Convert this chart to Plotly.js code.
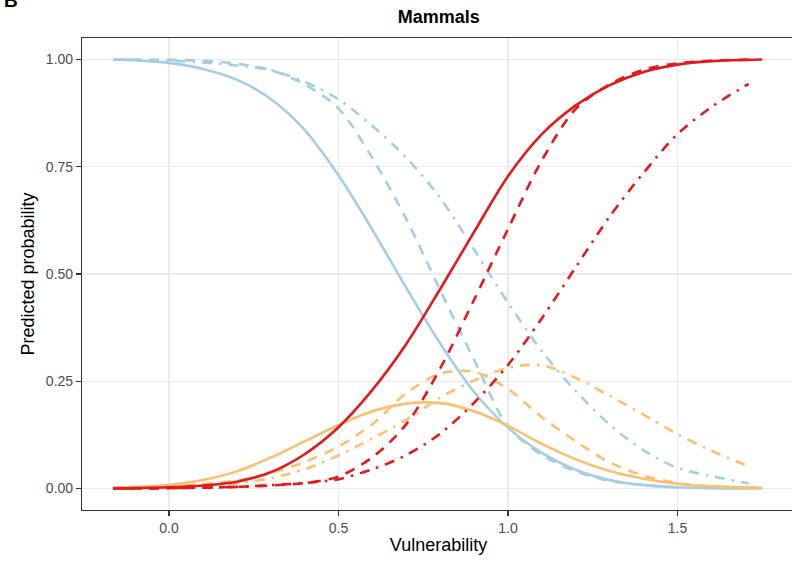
<!DOCTYPE html>
<html>
<head>
<meta charset="utf-8">
<script src="https://cdn.plot.ly/plotly-3.0.1.min.js"></script>
<style>
  html, body { margin: 0; padding: 0; overflow: hidden; background: #fff; }
  #chart { width: 797px; height: 561px; }
</style>
</head>
<body>
<div id="chart"></div>
<script>
// ---- data ----
const xSolid   = [-0.165,-0.1,0,0.1,0.2,0.3,0.4,0.5,0.6,0.7,0.8,0.9,1.0,1.1,1.2,1.3,1.4,1.5,1.6,1.75];
const xDashed  = [-0.165,-0.1,0,0.1,0.2,0.3,0.4,0.5,0.6,0.7,0.8,0.9,1.0,1.1,1.2,1.3,1.4,1.5,1.6,1.73];
const xDotdash = [-0.165,-0.1,0,0.1,0.2,0.3,0.4,0.5,0.6,0.7,0.8,0.9,1.0,1.1,1.2,1.3,1.4,1.5,1.6,1.71];

const lowSolid    = [1.0,0.998,0.992,0.978,0.953,0.908,0.836,0.730,0.603,0.468,0.338,0.225,0.142,0.083,0.044,0.020,0.008,0.003,0.001,0.0];
const midSolid    = [0.002,0.004,0.009,0.020,0.040,0.072,0.110,0.148,0.180,0.198,0.199,0.180,0.146,0.104,0.068,0.041,0.023,0.011,0.005,0.002];
const highSolid   = [0.0,0.001,0.003,0.007,0.016,0.038,0.080,0.143,0.230,0.337,0.465,0.598,0.728,0.826,0.893,0.940,0.971,0.988,0.996,1.0];

const lowDashed   = [1.0,1.0,0.999,0.997,0.990,0.975,0.942,0.886,0.770,0.628,0.462,0.300,0.145,0.078,0.040,0.018,0.008,0.003,0.001,0.0];
const midDashed   = [0.002,0.003,0.005,0.010,0.019,0.036,0.062,0.098,0.150,0.222,0.268,0.272,0.232,0.166,0.110,0.061,0.030,0.013,0.005,0.002];
const highDashed  = [0.0,0.0,0.001,0.002,0.004,0.007,0.013,0.028,0.073,0.150,0.280,0.440,0.605,0.765,0.885,0.942,0.976,0.991,0.997,1.0];

const lowDotdash  = [1.0,0.999,0.997,0.993,0.986,0.975,0.948,0.907,0.845,0.771,0.677,0.557,0.433,0.320,0.227,0.149,0.089,0.048,0.029,0.012];
const midDotdash  = [0.001,0.002,0.003,0.006,0.012,0.024,0.045,0.077,0.117,0.160,0.212,0.252,0.281,0.287,0.258,0.216,0.172,0.127,0.088,0.052];
const highDotdash = [0.0,0.0,0.001,0.002,0.004,0.008,0.013,0.022,0.045,0.078,0.128,0.200,0.288,0.397,0.516,0.634,0.736,0.826,0.889,0.943];

const xTickVals = [0, 0.5, 1.0, 1.5];
const xTickText = ["0.0", "0.5", "1.0", "1.5"];
const yTickVals = [0, 0.25, 0.5, 0.75, 1.0];
const yTickText = ["0.00", "0.25", "0.50", "0.75", "1.00"];

// ---- styles ----
const colLow = "#A6CEE3", colMid = "#FDBF6F", colHigh = "#E31A1C";
const dashStyles = { solid: "solid", dashed: "10px,8px", dotdash: "2.5px,7px,10px,7px" };
const LW = 2.6;

function tr(x, y, color, dash) {
  return { x: x, y: y, type: "scatter", mode: "lines",
           line: { color: color, width: LW, dash: dash, shape: "spline", smoothing: 0.9 },
           hoverinfo: "skip", showlegend: false };
}

const traces = [
  tr(xDotdash, lowDotdash, colLow, dashStyles.dotdash),
  tr(xDashed,  lowDashed,  colLow, dashStyles.dashed),
  tr(xSolid,   lowSolid,   colLow, dashStyles.solid),
  tr(xDotdash, midDotdash, colMid, dashStyles.dotdash),
  tr(xDashed,  midDashed,  colMid, dashStyles.dashed),
  tr(xSolid,   midSolid,   colMid, dashStyles.solid),
  tr(xDotdash, highDotdash, colHigh, dashStyles.dotdash),
  tr(xDashed,  highDashed,  colHigh, dashStyles.dashed),
  tr(xSolid,   highSolid,   colHigh, dashStyles.solid)
];

const tickFont = { family: "Liberation Sans, Arial, sans-serif", size: 14, color: "#4D4D4D" };
const titleFont = { family: "Liberation Sans, Arial, sans-serif", size: 18, color: "#000" };

const layout = {
  width: 797, height: 561,
  margin: { l: 82, r: 2, t: 38, b: 51, pad: 0 },
  paper_bgcolor: "#fff", plot_bgcolor: "#fff",
  title: { text: "<b>Mammals</b>", x: 0.5505, xanchor: "center", y: 0.970, yanchor: "middle",
           font: { family: "Liberation Sans, Arial, sans-serif", size: 18, color: "#000" } },
  xaxis: {
    range: [-0.2566, 1.8466], tickvals: xTickVals, ticktext: xTickText,
    showgrid: true, gridcolor: "#EBEBEB", gridwidth: 1.2, zeroline: false,
    showline: true, linecolor: "#333333", linewidth: 1.1, mirror: true,
    ticks: "outside", ticklen: 5, tickcolor: "#333333", tickwidth: 1.1,
    tickfont: tickFont,
    title: { text: "Vulnerability", font: titleFont, standoff: 3 }
  },
  yaxis: {
    range: [-0.05, 1.05], tickvals: yTickVals, ticktext: yTickText,
    showgrid: true, gridcolor: "#EBEBEB", gridwidth: 1.2, zeroline: false,
    showline: true, linecolor: "#333333", linewidth: 1.1, mirror: true,
    ticks: "outside", ticklen: 5, tickcolor: "#333333", tickwidth: 1.1,
    tickfont: tickFont,
    title: { text: "Predicted probability", font: titleFont, standoff: 6 }
  },
  annotations: [{
    text: "<b>B</b>", xref: "paper", yref: "paper", x: -0.1122, y: 1.0790,
    xanchor: "left", yanchor: "middle", showarrow: false,
    font: { family: "Liberation Sans, Arial, sans-serif", size: 19, color: "#000" }
  }]
};

Plotly.newPlot("chart", traces, layout, { displayModeBar: false, staticPlot: true });
</script>
</body>
</html>
